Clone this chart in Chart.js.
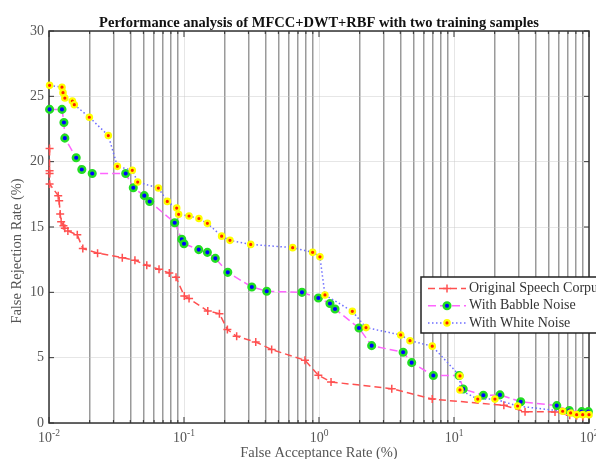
<!DOCTYPE html>
<html>
<head>
<meta charset="utf-8">
<script src="https://cdn.jsdelivr.net/npm/chart.js@4.4.1/dist/chart.umd.min.js"></script>
<style>
  body { margin: 0; background: #fff; }
  canvas { display: block; }
</style>
</head>
<body>
<canvas id="detChart" width="596" height="459"></canvas>
<script>
// False acceptance rate (%) / false rejection rate (%) pairs per condition
const originalFar = [0.0101, 0.0101, 0.0101, 0.0101, 0.0117, 0.0119, 0.0121, 0.0123, 0.0128, 0.0131,
  0.0138, 0.0162, 0.0178, 0.0229, 0.0349, 0.0433, 0.053, 0.0653, 0.0778, 0.0873, 0.1005, 0.109,
  0.150, 0.183, 0.2096, 0.2455, 0.340, 0.446, 0.787, 0.989, 1.228, 3.46, 6.9, 23.4, 33.6, 56, 72, 81, 90];
const originalFrr = [21.0, 19.3, 19.1, 18.3, 17.4, 17.0, 16.0, 15.4, 15.1, 14.9,
  14.7, 14.4, 13.35, 13.0, 12.65, 12.45, 12.07, 11.76, 11.48, 11.15, 9.72, 9.52,
  8.57, 8.37, 7.15, 6.63, 6.2, 5.62, 4.8, 3.65, 3.14, 2.63, 1.83, 1.35, 0.87, 0.85, 0.6, 0.55, 0.5];

const babbleFar = [0.0101, 0.01248, 0.0129, 0.0131, 0.0159, 0.0175, 0.0209, 0.037, 0.0421, 0.0508,
  0.0557, 0.0853, 0.0962, 0.1, 0.1286, 0.149, 0.1706, 0.211, 0.318, 0.41, 0.748, 0.989, 1.205,
  1.314, 1.977, 2.455, 4.2, 4.86, 7.03, 10.9, 11.7, 16.5, 21.9, 31.2, 57.7, 71.4, 88.3, 98.9];
const babbleFrr = [24.0, 24.0, 23.0, 21.8, 20.3, 19.4, 19.1, 19.1, 18.0, 17.4,
  16.95, 15.33, 14.06, 13.72, 13.27, 13.06, 12.6, 11.53, 10.41, 10.08, 10.0, 9.57, 9.15,
  8.73, 7.27, 5.92, 5.41, 4.62, 3.63, 3.63, 2.6, 2.12, 2.15, 1.63, 1.33, 0.95, 0.87, 0.87];

const whiteFar = [0.0101, 0.01248, 0.0127, 0.0131, 0.0149, 0.0154, 0.0199, 0.0275, 0.0321, 0.0414,
  0.0454, 0.0646, 0.0752, 0.0883, 0.0912, 0.109, 0.129, 0.149, 0.190, 0.219, 0.312, 0.638, 0.897,
  1.016, 1.107, 1.766, 2.23, 4.03, 4.72, 6.9, 11.07, 11.07, 15.0, 20.1, 29.6, 63.8, 73.1, 81, 89.8, 100];
const whiteFrr = [25.84, 25.7, 25.28, 24.87, 24.64, 24.36, 23.4, 22.0, 19.64, 19.34,
  18.44, 17.98, 16.96, 16.45, 15.97, 15.84, 15.65, 15.28, 14.3, 13.98, 13.67, 13.42, 13.06,
  12.72, 9.8, 8.55, 7.3, 6.74, 6.3, 5.88, 3.6, 2.53, 1.83, 1.83, 1.3, 0.9, 0.77, 0.64, 0.64, 0.64];

const seriesNames = ['Original Speech Corpus', 'With Babble Noise', 'With White Noise'];
const decades = [0.01, 0.1, 1, 10, 100];
const decadeExponents = ['-2', '-1', '0', '1', '2'];
const frrTicks = [0, 5, 10, 15, 20, 25, 30];

const serif = "'Liberation Serif', 'Times New Roman', serif";
const pairs = (xs, ys) => xs.map((x, i) => ({ x: x, y: ys[i] }));

// 1..9 x each decade for the log grid
const logGrid = [];
decades.forEach((d, i) => {
  if (i === decades.length - 1) { logGrid.push(d); return; }
  for (let m = 1; m <= 9; m++) logGrid.push(+(m * d).toPrecision(3));
});
const isDecade = v => decades.some(d => Math.abs(v - d) < d * 1e-6);

const styleOf = [
  { color: 'rgb(255,80,80)', dash: [7, 4], marker: 'cross', r: 4, bw: 1.5 },
  { color: 'rgb(255,100,255)', dash: [8, 4], marker: 'circle', fill: '#0000ff', ring: '#22dd22', r: 3.3, bw: 2.5 },
  { color: 'rgb(110,110,255)', dash: [1.5, 2.5], marker: 'circle', fill: '#ff2000', ring: '#ffff00', r: 2.7, bw: 2.2 }
];

function drawMarker(ctx, i, x, y) {
  const s = styleOf[i];
  ctx.save();
  ctx.setLineDash([]);
  if (s.marker === 'cross') {
    ctx.strokeStyle = s.color;
    ctx.lineWidth = s.bw;
    ctx.beginPath();
    ctx.moveTo(x - s.r, y); ctx.lineTo(x + s.r, y);
    ctx.moveTo(x, y - s.r); ctx.lineTo(x, y + s.r);
    ctx.stroke();
  } else {
    ctx.fillStyle = s.fill;
    ctx.strokeStyle = s.ring;
    ctx.lineWidth = s.bw;
    ctx.beginPath();
    ctx.arc(x, y, s.r, 0, Math.PI * 2);
    ctx.fill();
    ctx.stroke();
  }
  ctx.restore();
}

const axesDecor = {
  id: 'axesDecor',
  beforeDatasetsDraw(chart) {
    const { ctx, chartArea: a, scales } = chart;
    ctx.save();
    ctx.strokeStyle = '#333';
    ctx.lineWidth = 1.5;
    ctx.strokeRect(a.left, a.top, a.right - a.left, a.bottom - a.top);
    ctx.lineWidth = 1;
    ctx.beginPath();
    frrTicks.forEach(v => {
      const y = scales.y.getPixelForValue(v);
      ctx.moveTo(a.left, y); ctx.lineTo(a.left + 5, y);
      ctx.moveTo(a.right, y); ctx.lineTo(a.right - 5, y);
    });
    logGrid.forEach(v => {
      const x = scales.x.getPixelForValue(v);
      const len = isDecade(v) ? 6 : 3;
      ctx.moveTo(x, a.top); ctx.lineTo(x, a.top + len);
      ctx.moveTo(x, a.bottom); ctx.lineTo(x, a.bottom - len);
    });
    ctx.stroke();
    ctx.restore();
  },
  afterDraw(chart) {
    const { ctx, chartArea: a, scales } = chart;
    ctx.save();

    // title
    ctx.fillStyle = '#111';
    ctx.font = 'bold 14.5px ' + serif;
    ctx.textAlign = 'center';
    ctx.textBaseline = 'alphabetic';
    ctx.fillText('Performance analysis of MFCC+DWT+RBF with two training samples', (a.left + a.right) / 2, 27);

    // decade labels with superscript exponents
    ctx.fillStyle = '#555';
    decades.forEach((d, i) => {
      const x = scales.x.getPixelForValue(d);
      ctx.font = '14px ' + serif;
      const w1 = ctx.measureText('10').width;
      ctx.font = '9.5px ' + serif;
      const w2 = ctx.measureText(decadeExponents[i]).width;
      const x0 = x - (w1 + w2) / 2;
      ctx.textAlign = 'left';
      ctx.font = '14px ' + serif;
      ctx.fillText('10', x0, 442);
      ctx.font = '9.5px ' + serif;
      ctx.fillText(decadeExponents[i], x0 + w1, 436);
    });

    // axis titles
    ctx.font = '14.5px ' + serif;
    ctx.textAlign = 'center';
    ctx.fillText('False Acceptance Rate (%)', (a.left + a.right) / 2, 457);
    ctx.save();
    ctx.translate(17, 251);
    ctx.rotate(-Math.PI / 2);
    ctx.textBaseline = 'middle';
    ctx.fillText('False Rejection Rate (%)', 0, 0);
    ctx.restore();

    // legend box
    const lx = 421, ly = 277, lh = 56;
    ctx.fillStyle = '#fff';
    ctx.fillRect(lx, ly, 200, lh);
    ctx.strokeStyle = '#222';
    ctx.lineWidth = 1.5;
    ctx.strokeRect(lx, ly, 200, lh);
    seriesNames.forEach((name, i) => {
      const y = 288.5 + i * 17.2;
      ctx.strokeStyle = styleOf[i].color;
      ctx.lineWidth = 1.5;
      ctx.setLineDash(styleOf[i].dash);
      ctx.beginPath();
      ctx.moveTo(428, y); ctx.lineTo(466, y);
      ctx.stroke();
      ctx.setLineDash([]);
      drawMarker(ctx, i, 447, y);
      ctx.fillStyle = '#333';
      ctx.font = '14px ' + serif;
      ctx.textAlign = 'left';
      ctx.textBaseline = 'middle';
      ctx.fillText(name, 469, y);
    });
    ctx.restore();
  }
};

const ds = (i, data, order) => {
  const s = styleOf[i];
  const cross = s.marker === 'cross';
  return {
    label: seriesNames[i],
    data: data,
    order: order,
    borderColor: s.color,
    borderWidth: 1.5,
    borderDash: s.dash,
    pointStyle: s.marker,
    pointRadius: s.r,
    pointBorderWidth: s.bw,
    pointBorderColor: cross ? s.color : s.ring,
    pointBackgroundColor: cross ? s.color : s.fill,
    tension: 0,
    fill: false,
    clip: false
  };
};

new Chart(document.getElementById('detChart').getContext('2d'), {
  type: 'line',
  data: {
    datasets: [
      ds(0, pairs(originalFar, originalFrr), 2),
      ds(1, pairs(babbleFar, babbleFrr), 1),
      ds(2, pairs(whiteFar, whiteFrr), 0)
    ]
  },
  options: {
    responsive: false,
    animation: false,
    events: [],
    layout: { padding: { top: 31, right: 7, left: 0, bottom: 0 } },
    plugins: { legend: { display: false }, title: { display: false }, tooltip: { enabled: false } },
    scales: {
      x: {
        type: 'logarithmic',
        min: 0.01,
        max: 100,
        afterBuildTicks: scale => { scale.ticks = logGrid.map(v => ({ value: v, major: isDecade(v) })); },
        afterFit: scale => { scale.height = 36; },
        ticks: { display: false, autoSkip: false },
        grid: {
          drawTicks: false,
          color: c => isDecade(c.tick.value) ? 'rgba(200,200,200,0.45)' : 'rgba(120,120,120,0.75)',
          lineWidth: c => isDecade(c.tick.value) ? 1 : 1.5
        },
        border: { display: false }
      },
      y: {
        min: 0,
        max: 30,
        afterBuildTicks: scale => { scale.ticks = frrTicks.map(v => ({ value: v })); },
        afterFit: scale => { scale.width = 49; },
        ticks: { color: '#555', padding: 5, font: { family: serif, size: 14 } },
        grid: { drawTicks: false, color: 'rgba(200,200,200,0.45)', lineWidth: 1 },
        border: { display: false }
      }
    }
  },
  plugins: [axesDecor]
});
</script>
</body>
</html>
